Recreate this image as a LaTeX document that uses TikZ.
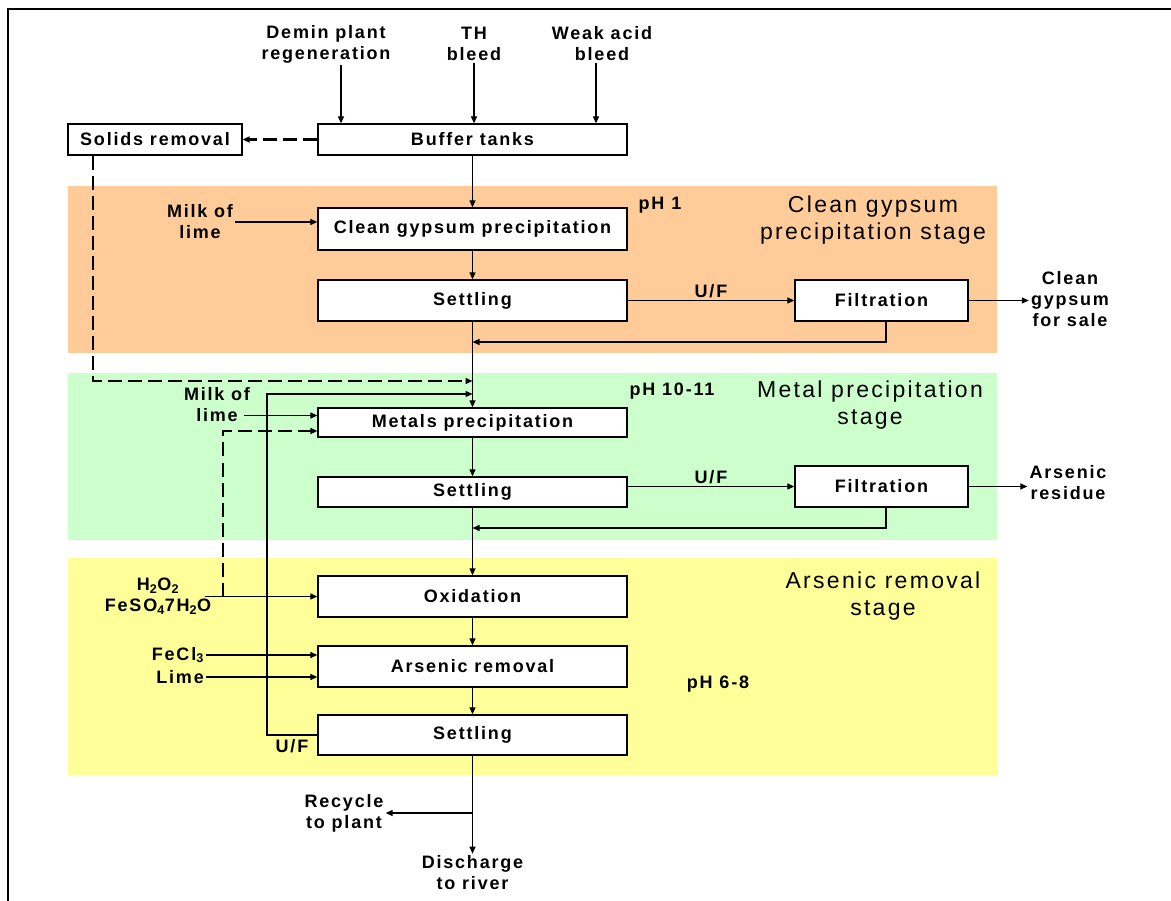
\documentclass[tikz,border=0pt]{standalone}
\usepackage{fontspec}
\setmainfont{Liberation Sans}[LetterSpace=10]
\usetikzlibrary{arrows.meta}
\definecolor{gypband}{HTML}{FFCC99}
\definecolor{metband}{HTML}{CCFFCC}
\definecolor{arsband}{HTML}{FFFF99}
\tikzset{
  proc/.style={draw, fill=white, line width=1.3pt, minimum width=309pt, minimum height=41pt, inner sep=0pt, font=\fontsize{18}{21}\selectfont\bfseries},
  filt/.style={proc, minimum width=173pt},
  lbl/.style={align=center, inner sep=2pt, font=\fontsize{18}{21}\selectfont\bfseries},
  stage/.style={align=center, inner sep=0pt, font=\fontsize{23}{27}\selectfont},
  arr/.style={-{Triangle[length=7pt,width=6pt]}, line width=1.2pt},
  dasharr/.style={arr, line width=2.3pt, dash pattern=on 14pt off 6pt},
}
\begin{document}
\begin{tikzpicture}[x=1pt, y=-1pt]
    \useasboundingbox (0,0) rectangle (1171,901);
    \draw[line width=2.3pt] (8,901) -- (8,9) -- (1171,9);
    \fill[gypband] (68,186) rectangle (997,353);
    \fill[metband] (68,373) rectangle (997,540);
    \fill[arsband] (68,558) rectangle (997,775);

    \node[proc, minimum height=31pt] (buffer) at (472.5,139.5) {Buffer tanks};
    \node[proc, minimum width=174pt, minimum height=31pt] (solids) at (155,139.5) {Solids removal};
    \node[proc, minimum height=42pt] (cgp) at (472.5,229) {Clean gypsum precipitation};
    \node[proc] (settleA) at (472.5,300.5) {Settling};
    \node[filt] (filtA) at (881.5,300.5) {Filtration};
    \node[proc, minimum height=29pt] (metals) at (472.5,422.5) {Metals precipitation};
    \node[proc, minimum height=30pt] (settleB) at (472.5,492) {Settling};
    \node[filt] (filtB) at (881.5,486.5) {Filtration};
    \node[proc] (oxid) at (472.5,596.5) {Oxidation};
    \node[proc] (asrem) at (472.5,666.5) {Arsenic removal};
    \node[proc, minimum height=40pt] (settleC) at (472.5,735) {Settling};

    \node[lbl] (demin) at (326,44) {Demin plant\\regeneration};
    \node[lbl] (th) at (474,44) {TH\\bleed};
    \node[lbl] (weak) at (602,44) {Weak acid\\bleed};
    \node[lbl] (milkA) at (200,222) {Milk of\\lime};
    \node[lbl] (milkB) at (217,404.5) {Milk of\\lime};
    \node[lbl] (h2o2) at (158,596) {H\textsubscript{2}O\textsubscript{2}\\FeSO\textsubscript{4}7H\textsubscript{2}O};
    \node[lbl, anchor=east] (fecl) at (206,655) {FeCl\textsubscript{3}};
    \node[lbl, anchor=east] (lime) at (206,677) {Lime};
    \node[lbl] (gyps) at (1070,299) {Clean\\gypsum\\for sale};
    \node[lbl] (asres) at (1068,483) {Arsenic\\residue};
    \node[lbl] (ufC) at (292,746) {U/F};
    \node[lbl] (recyc) at (344,813) {Recycle\\to plant};
    \node[lbl] (disch) at (472.5,873) {Discharge\\to river};

    \node[stage] (gypstage) at (873,220) {Clean gypsum\\precipitation stage};
    \node[stage] (metstage) at (870,405) {Metal precipitation\\stage};
    \node[stage] (arsstage) at (883,596) {Arsenic removal\\stage};
    \node[lbl] (phA) at (660,205) {pH 1};
    \node[lbl] (phB) at (672,391) {pH 10-11};
    \node[lbl] (phC) at (718,684) {pH 6-8};

    \draw[arr] ([xshift=15pt]demin.south) -- ([xshift=15pt]demin.south |- buffer.north);
    \draw[arr] (th.south) -- (th.south |- buffer.north);
    \draw[arr] ([xshift=-6pt]weak.south) -- ([xshift=-6pt]weak.south |- buffer.north);
    \draw[dasharr] (buffer.west) -- (solids.east);

    \draw[arr] (buffer) -- (cgp);
    \draw[arr] (cgp) -- (settleA);
    \draw[arr] (settleA) -- (metals);
    \draw[arr] (metals) -- (settleB);
    \draw[arr] (settleB) -- (oxid);
    \draw[arr] (oxid) -- (asrem);
    \draw[arr] (asrem) -- (settleC);
    \draw[arr] (settleC) -- (disch);
    \draw[arr] (settleC.south |- recyc.east) -- (recyc.east);

    \draw[arr] (milkA.east) -- (milkA.east -| cgp.west);
    \draw[arr] ([xshift=-8pt,yshift=-11pt]milkB.east) -- ([yshift=-11pt]milkB.east -| metals.west);
    \draw[arr] (fecl.east) -- (fecl.east -| asrem.west);
    \draw[arr] (lime.east) -- (lime.east -| asrem.west);
    \coordinate (h2in) at (205,596.5);
    \draw[arr] (h2in) -- (oxid.west);

    \draw[arr] (settleA.east) -- node[lbl, above] {U/F} (filtA.west);
    \draw[arr] (settleB.east |- filtB.west) -- node[lbl, above] {U/F} (filtB.west);
    \draw[arr] (filtA.east) -- (filtA.east -| gyps.west);
    \draw[arr] (filtB.east) -- (filtB.east -| asres.west);
    \coordinate (retA) at (886,342);
    \coordinate (retB) at (886,528);
    \draw[arr] (retA |- filtA.south) -- (retA) -- (retA -| settleA.south);
    \draw[arr] (retB |- filtB.south) -- (retB) -- (retB -| settleB.south);

    \coordinate (solturn) at (93,381);
    \draw[dasharr] (solturn |- solids.south) -- (solturn) -- (solturn -| metals.north);
    \coordinate (ufturn) at (267,394);
    \draw[arr] (settleC.west) -| (ufturn) -- (ufturn -| metals.north);
    \coordinate (h2turn) at (223,431);
    \draw[dasharr] (h2turn |- oxid.west) -- (h2turn) -- (h2turn -| metals.west);
\end{tikzpicture}
\end{document}
